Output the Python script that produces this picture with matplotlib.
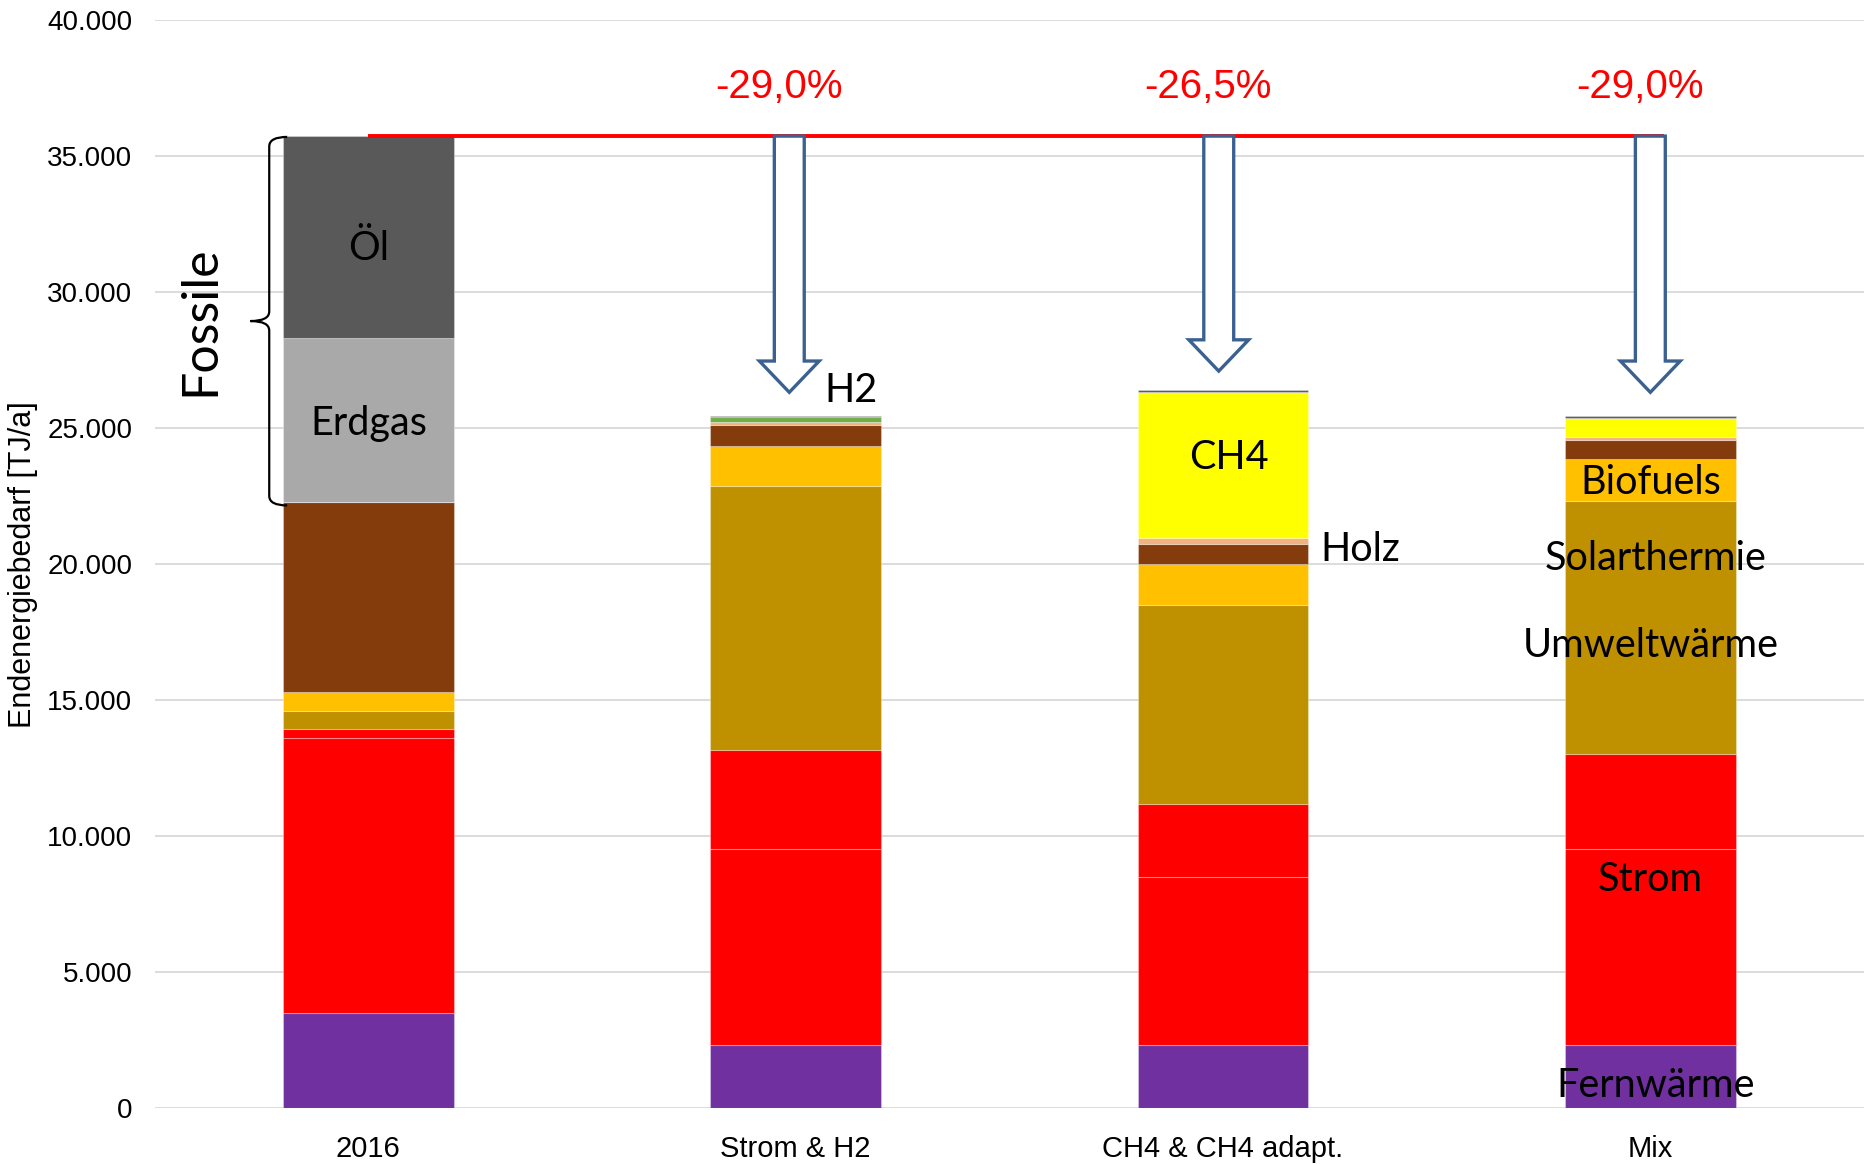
import matplotlib
matplotlib.use('Agg')
import matplotlib.pyplot as plt
from matplotlib.path import Path
from matplotlib.patches import PathPatch, Polygon
import numpy as np

categories = ['2016', 'Strom & H2', 'CH4 & CH4 adapt.', 'Mix']

# Endenergiebedarf in TJ/a, von unten nach oben gestapelt
fernwaerme = [3500, 2320, 2320, 2320]
strom = [10100, 7210, 6160, 7210]
strom_wp = [330, 3630, 2710, 3500]
umweltwaerme = [660, 9710, 7300, 9280]
biofuels = [700, 1480, 1500, 1540]
holz = [7000, 770, 770, 715]
biogas = [0, 90, 220, 125]
ch4 = [0, 0, 5360, 700]
h2 = [0, 205, 0, 0]
erdgas = [6030, 0, 0, 0]
oel = [7420, 35, 60, 60]

reduction_labels = ['-29,0%', '-26,5%', '-29,0%']
arrow_x = [0.985, 1.99, 3.0]
arrow_tip = [26320, 27100, 26320]

series = [
    (fernwaerme, '#7030A0'),
    (strom, '#FF0000'),
    (strom_wp, '#FF0000'),
    (umweltwaerme, '#BF9000'),
    (biofuels, '#FFC000'),
    (holz, '#843C0C'),
    (biogas, '#F4B183'),
    (ch4, '#FFFF00'),
    (h2, '#70AD47'),
    (erdgas, '#A9A9A9'),
    (oel, '#595959'),
]

fig = plt.figure(figsize=(18.64, 11.64), dpi=100)
ax = fig.add_axes([0.083, 0.048, 0.917, 0.9346])

x = np.arange(len(categories))
bottom = np.zeros(len(categories))
for vals, col in series:
    ax.bar(x, vals, 0.4, bottom=bottom, color=col,
           edgecolor=(1, 1, 1, 0.3), linewidth=0.8, zorder=2)
    bottom += np.array(vals)

totals = bottom
ax.set_xlim(-0.5, 3.5)
ax.set_ylim(0, 40000)
ax.set_yticks(np.arange(0, 40001, 5000))
ax.set_yticklabels(['{:,.0f}'.format(v).replace(',', '.') for v in np.arange(0, 40001, 5000)],
                   fontsize=20, family='Liberation Sans')
ax.set_xticks(x)
ax.set_xticklabels(categories, fontsize=21, family='Liberation Sans')
ax.tick_params(axis='y', length=0, pad=16)
ax.tick_params(axis='x', length=0, pad=19)
ax.grid(axis='y', color='#D9D9D9', linewidth=1.3, zorder=0)
ax.set_axisbelow(True)
for s in ax.spines.values():
    s.set_visible(False)

ax.set_ylabel('Endenergiebedarf [TJ/a]', fontsize=22, family='Liberation Sans')
ax.yaxis.set_label_coords(-0.068, 0.5)

# rote Linie auf Höhe 2016
top = totals[0]
ax.plot([0, 3.032], [top, top], color='#FF0000', linewidth=2.8, zorder=4,
        solid_capstyle='butt')

# Pfeile
for ax_x, tip in zip(arrow_x, arrow_tip):
    sw = 0.035
    hw = 0.07
    hl = 1150
    pts = [(ax_x - sw, top), (ax_x + sw, top), (ax_x + sw, tip + hl),
           (ax_x + hw, tip + hl), (ax_x, tip), (ax_x - hw, tip + hl),
           (ax_x - sw, tip + hl)]
    ax.add_patch(Polygon(pts, closed=True, facecolor='white',
                         edgecolor='#3B6190', linewidth=2.4, zorder=5))

for lab, ax_x in zip(reduction_labels, arrow_x):
    ax.text(ax_x - 0.025, 37550, lab, color='#FF0000', fontsize=29,
            family='Liberation Sans', ha='center', va='center')

# Klammer Fossile
y_top = top - 30
y_bot = fernwaerme[0] + strom[0] + strom_wp[0] + umweltwaerme[0] + biofuels[0] + holz[0] - 130
y_mid = 28940
xv, xe, xt, r = -0.232, -0.19, -0.276, 350
verts = [(xe, y_top), (xv, y_top), (xv, y_top - r),
         (xv, y_mid + r), (xv, y_mid), (xt, y_mid),
         (xv, y_mid), (xv, y_mid - r),
         (xv, y_bot + r), (xv, y_bot), (xe, y_bot)]
codes = [Path.MOVETO, Path.CURVE3, Path.CURVE3,
         Path.LINETO, Path.CURVE3, Path.CURVE3,
         Path.CURVE3, Path.CURVE3,
         Path.LINETO, Path.CURVE3, Path.CURVE3]
ax.add_patch(PathPatch(Path(verts, codes), facecolor='none', edgecolor='black',
                       linewidth=1.6, zorder=5))
ax.text(-0.393, 28940, 'Fossile', rotation=90, fontsize=36, family='Lato',
        ha='center', va='center')

# Beschriftungen
lab_font = dict(fontsize=28.5, family='Lato', va='center', zorder=6)
ax.text(0, 31600, 'Öl', ha='center', **lab_font)
ax.text(0, 25180, 'Erdgas', ha='center', **lab_font)
ax.text(2.014, 23910, 'CH4', ha='center', **lab_font)
ax.text(2.229, 20550, 'Holz', ha='left', **lab_font)
ax.text(1.066, 26400, 'H2', ha='left', **lab_font)
ax.text(3.0, 23000, 'Biofuels', ha='center', **lab_font)
ax.text(3.013, 20200, 'Solarthermie', ha='center', **lab_font)
ax.text(3.0, 17000, 'Umweltwärme', ha='center', **lab_font)
ax.text(3.0, 8390, 'Strom', ha='center', **lab_font)
ax.text(3.013, 830, 'Fernwärme', ha='center', **lab_font)

fig.savefig('out.png', dpi=100)
